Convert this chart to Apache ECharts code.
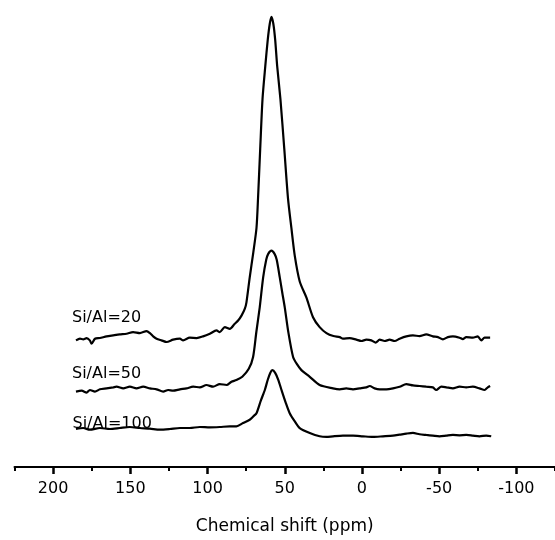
<!DOCTYPE html>
<html>
<head>
<meta charset="utf-8">
<script src="https://cdn.jsdelivr.net/npm/echarts@6/dist/echarts.min.js"></script>
<style>html,body{margin:0;padding:0;background:#fff;}#c{width:555px;height:540px;}</style>
</head>
<body>
<div id="c"></div>
<script>
// x-axis ticks (ppm)
const majorTicks = [200, 150, 100, 50, 0, -50, -100];
const minorTicks = [225, 175, 125, 75, 25, -25, -75, -125];
const seriesNames = ['Si/Al=20', 'Si/Al=50', 'Si/Al=100'];
const offsets = [28.0, 17.14, 7.59];

// Si/Al=20 spectrum
const ppm20 = [185.2,182.6,180.5,178.3,176.2,175.1,172.9,169.7,165.4,161.1,156.8,152.4,148.2,143.8,139.5,137.3,135.2,133.0,129.8,126.5,122.3,117.9,115.8,111.5,107.1,102.9,98.5,94.2,92.1,88.8,85.6,82.4,80.2,78.0,75.9,74.8,72.7,70.4,68.3,67.3,65.9,64.4,62.6,61.0,59.7,58.6,57.4,56.2,54.9,52.8,50.3,47.9,45.7,43.5,40.3,36.0,31.7,27.4,23.0,18.5,14.4,12.3,7.96,3.64,0.41,-2.83,-6.06,-8.86,-11.45,-14.69,-17.92,-21.16,-24.39,-28.7,-33.0,-37.3,-41.6,-45.9,-49.2,-52.4,-55.6,-58.9,-63.2,-65.3,-67.5,-71.8,-75.0,-77.2,-79.4,-83.0];
const int20 = [-0.29,0.07,-0.07,0.22,-0.29,-1.01,0.07,0.22,0.58,0.80,1.01,1.16,1.52,1.30,1.74,1.30,0.58,0.07,-0.29,-0.65,-0.14,0.07,-0.29,0.29,0.22,0.58,1.16,1.88,1.52,2.60,2.24,3.33,4.05,5.13,6.58,8.03,13.45,18.87,24.3,30.8,41.6,52.5,59.7,65.5,69.0,70.5,69.0,65.5,59.7,52.5,41.6,30.8,24.3,18.2,12.6,9.1,4.77,2.60,1.30,0.65,0.43,0.07,0.22,-0.14,-0.43,-0.14,-0.29,-0.80,-0.14,-0.43,-0.14,-0.43,0.07,0.58,0.80,0.65,1.01,0.58,0.43,-0.07,0.43,0.58,0.29,0.0,0.43,0.29,0.58,-0.29,0.29,0.29];

// Si/Al=50 spectrum
const ppm50 = [185.2,181.5,178.3,176.2,172.9,169.7,165.4,161.1,158.9,154.6,150.3,146.0,141.7,137.3,133.0,128.7,125.5,122.3,117.9,113.6,109.3,105.0,100.7,96.4,92.1,87.7,84.5,81.3,77.5,73.3,70.5,68.4,66.2,64.0,62.0,60.7,58.6,56.6,55.2,53.2,51.6,50.0,47.7,44.6,42.2,39.2,33.8,27.4,18.8,14.4,10.1,5.8,1.5,-2.83,-5.0,-8.2,-11.45,-15.8,-20.1,-24.4,-28.7,-33.0,-37.3,-41.6,-45.9,-48.1,-51.4,-54.6,-58.9,-63.2,-67.5,-71.8,-76.1,-79.4,-81.5,-83.0];
const int50 = [-0.65,-0.43,-0.87,-0.29,-0.65,-0.14,0.07,0.29,0.43,0.07,0.43,0.07,0.43,0.07,-0.14,-0.65,-0.29,-0.43,-0.14,0.07,0.43,0.29,0.80,0.43,1.01,0.80,1.52,1.88,2.6,4.34,6.94,12.4,17.8,24.3,28.2,29.5,30.2,29.5,28.2,24.3,21.0,17.8,12.4,6.94,5.42,4.06,2.60,0.80,0.07,-0.14,0.07,-0.14,0.07,0.29,0.58,0.07,-0.14,-0.14,0.07,0.43,1.01,0.72,0.58,0.43,0.29,-0.29,0.43,0.29,0.07,0.43,0.29,0.43,0.07,-0.29,0.29,0.58];

// Si/Al=100 spectrum
const ppm100 = [185.2,180.5,176.2,169.7,163.2,156.8,150.3,143.8,137.3,130.9,124.4,117.9,111.5,105.0,98.5,92.1,85.6,81.3,77.0,72.7,70.4,68.3,65.5,62.9,61.0,59.4,58.0,56.2,54.2,52.1,49.4,46.8,43.5,40.3,33.8,27.4,23.0,18.8,12.3,5.8,-0.6,-7.1,-13.6,-20.1,-24.4,-28.7,-33.0,-37.3,-41.6,-45.9,-50.2,-54.6,-58.9,-63.2,-67.5,-71.8,-76.1,-80.5,-83.7];
const int100 = [0.72,0.94,0.58,0.94,0.72,0.94,1.16,0.94,0.80,0.58,0.72,0.94,0.94,1.16,1.08,1.16,1.30,1.30,2.02,2.75,3.47,4.19,6.94,9.26,11.5,13.0,13.6,13.0,11.5,9.26,6.51,4.19,2.39,0.93,-0.15,-0.87,-1.01,-0.87,-0.72,-0.72,-0.87,-1.01,-0.87,-0.72,-0.51,-0.29,-0.14,-0.43,-0.58,-0.72,-0.87,-0.72,-0.58,-0.65,-0.58,-0.72,-0.87,-0.72,-0.87];

const spectra = [[ppm20, int20], [ppm50, int50], [ppm100, int100]];

const FONT = 'DejaVu Sans';
const chart = echarts.init(document.getElementById('c'), null, {renderer: 'canvas'});

const series = spectra.map(function (s, k) {
  return {
    name: seriesNames[k],
    type: 'line',
    xAxisIndex: 0,
    yAxisIndex: 0,
    showSymbol: false,
    symbol: 'none',
    smooth: 0.25,
    animation: false,
    lineStyle: {color: '#000', width: 2.2},
    data: s[0].map(function (p, i) { return [p, offsets[k] + s[1][i]]; })
  };
});

const labelPos = [[72, 317.5], [72, 374.2], [72.5, 424.2]];

chart.setOption({
  animation: false,
  backgroundColor: '#fff',
  grid: {left: 14.5, right: 0, top: 10, bottom: 69},
  xAxis: [{
    type: 'value', min: -125, max: 225, inverse: true,
    axisLine: {show: true, lineStyle: {color: '#000', width: 2}},
    axisTick: {show: true, length: 7, lineStyle: {color: '#000', width: 2.5}, customValues: majorTicks},
    axisLabel: {show: true, customValues: majorTicks, color: '#000', fontSize: 16, fontFamily: FONT, margin: 14},
    splitLine: {show: false},
    name: 'Chemical shift (ppm)', nameLocation: 'middle', nameGap: 51,
    nameTextStyle: {color: '#000', fontSize: 17, fontFamily: FONT}
  }, {
    type: 'value', min: -125, max: 225, inverse: true, position: 'bottom',
    axisLine: {show: false},
    axisTick: {show: true, length: 4, lineStyle: {color: '#000', width: 2}, customValues: minorTicks},
    axisLabel: {show: false},
    splitLine: {show: false}
  }],
  yAxis: {type: 'value', min: 0, max: 100, show: false, splitLine: {show: false}},
  graphic: seriesNames.map(function (n, k) {
    return {
      type: 'text', x: labelPos[k][0], y: labelPos[k][1],
      style: {text: n, fontSize: 16, fontFamily: FONT, fill: '#000', verticalAlign: 'middle', align: 'left'}
    };
  }),
  series: series
});
</script>
</body>
</html>
